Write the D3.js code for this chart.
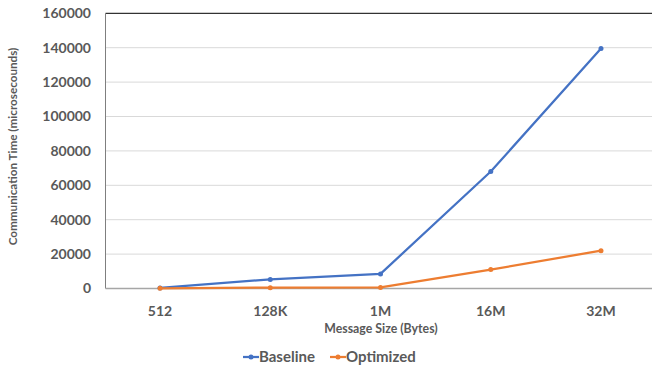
<!DOCTYPE html>
<html><head><meta charset="utf-8">
<script src="https://cdn.jsdelivr.net/npm/d3@7"></script>
<style>body{margin:0;background:#fff}svg{display:block}text{font-family:Lato,"Open Sans",sans-serif;font-weight:bold;fill:#595959}</style>
</head><body>
<script>
const categories = ["512","128K","1M","16M","32M"];
const baseline = [300, 5300, 8500, 68000, 139500];
const optimized = [100, 500, 600, 11000, 22000];
const yTicks = [0,20000,40000,60000,80000,100000,120000,140000,160000];
const seriesNames = ["Baseline","Optimized"];
const colors = ["#4472C4","#ED7D31"];

const W=652,H=371;
const svg=d3.select("body").append("svg").attr("width",W).attr("height",H);
const x=d3.scalePoint().domain(categories).range([160,601]);
const y=d3.scaleLinear().domain([0,160000]).range([288.5,13.3]);
const left=105.5, right=655;

// gridlines
svg.append("g").selectAll("line").data(yTicks.filter(d=>d>0&&d<160000)).join("line")
 .attr("x1",left).attr("x2",right).attr("y1",d=>y(d)).attr("y2",d=>y(d))
 .attr("stroke","#d9d9d9").attr("stroke-width",1);
// top line
svg.append("line").attr("x1",left).attr("x2",right).attr("y1",y(160000)).attr("y2",y(160000)).attr("stroke","#000").attr("stroke-width",1);
// left axis
svg.append("line").attr("x1",left).attr("x2",left).attr("y1",y(160000)).attr("y2",y(0)).attr("stroke","#7f7f7f").attr("stroke-width",1);
// bottom axis
svg.append("line").attr("x1",left).attr("x2",right).attr("y1",y(0)).attr("y2",y(0)).attr("stroke","#a6a6a6").attr("stroke-width",1.5);

// y tick labels
svg.append("g").selectAll("text").data(yTicks).join("text")
 .attr("x",91).attr("y",d=>y(d)).attr("dy","0.35em").attr("text-anchor","end")
 .style("font-size","14px").text(d=>d);
// x tick labels
svg.append("g").selectAll("text").data(categories).join("text")
 .attr("x",d=>x(d)).attr("y",311).attr("dy","0.35em").attr("text-anchor","middle")
 .style("font-size","14px").text(d=>d);

// titles
svg.append("text").attr("x",381).attr("y",329).attr("dy","0.35em").attr("text-anchor","middle")
 .style("font-size","12.3px").text("Message Size (Bytes)");
svg.append("text").attr("transform","translate(13,146.5) rotate(-90)").attr("dy","0.35em").attr("text-anchor","middle")
 .style("font-size","11.7px").text("Communication Time (microsecounds)");

// series
const series=[baseline,optimized];
const line=d3.line().x((d,i)=>x(categories[i])).y(d=>y(d));
series.forEach((s,k)=>{
  svg.append("path").datum(s).attr("d",line).attr("fill","none").attr("stroke",colors[k]).attr("stroke-width",2.25).attr("stroke-linejoin","round");
  svg.append("g").selectAll("circle").data(s).join("circle")
   .attr("cx",(d,i)=>x(categories[i])).attr("cy",d=>y(d)).attr("r",2.5).attr("fill",colors[k]);
});

// legend
const lx=[243,330];
seriesNames.forEach((n,k)=>{
  const g=svg.append("g").attr("transform",`translate(${lx[k]},357)`);
  g.append("line").attr("x1",0).attr("x2",16).attr("y1",0).attr("y2",0).attr("stroke",colors[k]).attr("stroke-width",2.25);
  g.append("circle").attr("cx",8).attr("cy",0).attr("r",2.5).attr("fill",colors[k]);
  g.append("text").attr("x",16).attr("y",0).attr("dy","0.35em").style("font-size","15px").text(n);
});
</script>
</body></html>
